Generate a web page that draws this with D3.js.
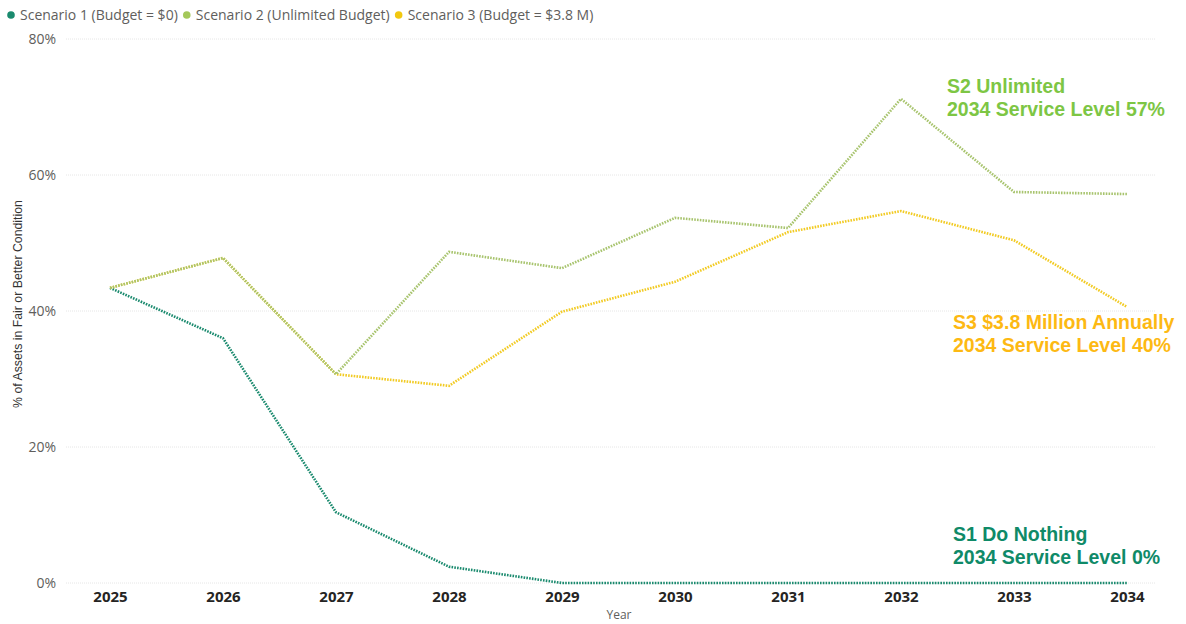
<!DOCTYPE html>
<html>
<head>
<meta charset="utf-8">
<script src="https://cdn.jsdelivr.net/npm/d3@7"></script>
<style>
  html, body { margin: 0; padding: 0; background: #fff; }
  svg { display: block; }
</style>
</head>
<body>
<svg id="chart" width="1186" height="624"></svg>
<script>
// Asset condition projections by funding scenario
const years = ["2025","2026","2027","2028","2029","2030","2031","2032","2033","2034"];
const s1DoNothing = [43.4, 36.0, 10.4, 2.4, 0, 0, 0, 0, 0, 0];
const s2Unlimited = [43.4, 47.8, 30.7, 48.7, 46.3, 53.7, 52.2, 71.2, 57.5, 57.2];
const s3Budget38M = [43.4, 47.8, 30.7, 29.0, 39.9, 44.3, 51.6, 54.7, 50.4, 40.6];
const yTicks = [0, 20, 40, 60, 80];
const seriesNames = ["Scenario 1 (Budget = $0)", "Scenario 2 (Unlimited Budget)", "Scenario 3 (Budget = $3.8 M)"];
const annotations = [
  { lines: ["S2 Unlimited", "2034 Service Level 57%"], color: "#7DC644", x: 947, y: 93 },
  { lines: ["S3 $3.8 Million Annually", "2034 Service Level 40%"], color: "#FDB913", x: 953, y: 329 },
  { lines: ["S1 Do Nothing", "2034 Service Level 0%"], color: "#0F8A68", x: 953, y: 541 }
];

const series = [
  { name: seriesNames[0], values: s1DoNothing, line: "#1A8A6E", dot: "#1A8A6E" },
  { name: seriesNames[1], values: s2Unlimited, line: "#A8C46E", dot: "#A4C85A" },
  { name: seriesNames[2], values: s3Budget38M, line: "#F2CB24", dot: "#F2C80F" }
];

const svg = d3.select("#chart");
const x = d3.scalePoint().domain(years).range([110, 1127]);
const y = d3.scaleLinear().domain([0, 80]).range([583, 39]);

// horizontal gridlines
svg.append("g").selectAll("line").data(yTicks).join("line")
  .attr("x1", 66).attr("x2", 1155)
  .attr("y1", d => y(d)).attr("y2", d => y(d))
  .attr("stroke", "#e6e6e6").attr("stroke-width", 1)
  .attr("stroke-dasharray", "1,1");

// y axis labels
const yAxis = svg.append("g").attr("transform", "translate(56,0)")
  .call(d3.axisLeft(y).tickValues(yTicks).tickFormat(d => d + "%").tickSize(0).tickPadding(0));
yAxis.select(".domain").remove();
yAxis.selectAll("text")
  .attr("font-family", "'Open Sans', sans-serif").attr("font-size", 14)
  .attr("fill", "#605E5C");

// x axis labels
const xAxis = svg.append("g").attr("transform", "translate(0,589)")
  .call(d3.axisBottom(x).tickSize(0).tickPadding(0));
xAxis.select(".domain").remove();
xAxis.selectAll("text")
  .attr("dy", "0.85em")
  .attr("font-family", "'Open Sans', sans-serif").attr("font-size", 15)
  .attr("font-weight", "bold").attr("fill", "#252423");

// axis titles
svg.append("text").attr("x", 619).attr("y", 619).attr("text-anchor", "middle")
  .attr("font-family", "'Open Sans', sans-serif").attr("font-size", 12).attr("fill", "#605E5C")
  .text("Year");
svg.append("text").attr("transform", "translate(22,304) rotate(-90)").attr("text-anchor", "middle")
  .attr("font-family", "'Liberation Sans', Arial, sans-serif").attr("font-size", 12.3).attr("fill", "#333")
  .text("% of Assets in Fair or Better Condition");

// series lines (dotted)
const line = d3.line().x((d, i) => x(years[i])).y(d => y(d));
svg.append("g").selectAll("path").data([series[0], series[2], series[1]]).join("path")
  .attr("d", d => line(d.values))
  .attr("fill", "none").attr("stroke", d => d.line)
  .attr("stroke-width", 2.6).attr("stroke-dasharray", "1.6,1.2");

// legend
const legend = svg.append("g");
let lx = 7;
series.forEach(s => {
  const g = legend.append("g").attr("transform", `translate(${lx},15)`);
  g.append("circle").attr("cx", 4).attr("cy", 0).attr("r", 3.8).attr("fill", s.dot);
  const t = g.append("text").attr("x", 13).attr("y", 5)
    .attr("font-family", "'Open Sans', sans-serif").attr("font-size", 14)
    .attr("fill", "#605E5C").text(s.name);
  lx += 13 + t.node().getComputedTextLength() + 5;
});

// end-of-horizon annotations
annotations.forEach(a => {
  const t = svg.append("text").attr("x", a.x).attr("y", a.y)
    .attr("font-family", "'Liberation Sans', Arial, sans-serif").attr("font-size", 19.5)
    .attr("font-weight", "bold").attr("fill", a.color);
  a.lines.forEach((l, i) => t.append("tspan").attr("x", a.x).attr("dy", i ? 23 : 0).text(l));
});
</script>
</body>
</html>
